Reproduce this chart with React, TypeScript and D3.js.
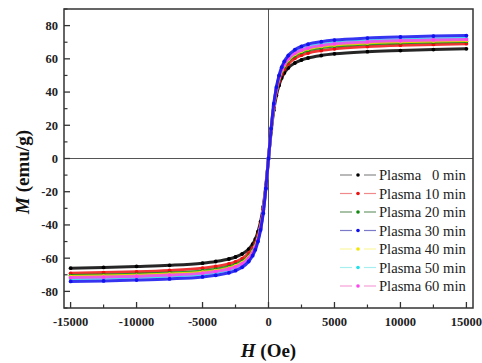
import React from 'react';
import * as d3 from 'd3';

// field values (Oe) shared by all samples
const fieldH = [-15000, -12500, -10000, -7500, -5000, -4000, -3000, -2500, -2000, -1500, -1200, -1000, -800, -600, -400, -200,
  0, 200, 400, 600, 800, 1000, 1200, 1500, 2000, 2500, 3000, 4000, 5000, 7500, 10000, 12500, 15000];

const plasma0 = [-66, -65.6, -65, -64.3, -63, -62, -60.5, -59.3, -57.5, -54.5, -51.5, -48.5, -44, -38, -29, -16,
  0, 16, 29, 38, 44, 48.5, 51.5, 54.5, 57.5, 59.3, 60.5, 62, 63, 64.3, 65, 65.6, 66];
const plasma10 = [-69.1, -68.7, -68.2, -67.4, -66, -65, -63.5, -62.2, -60.3, -57, -54, -51, -46.5, -40, -30.5, -17,
  0, 17, 30.5, 40, 46.5, 51, 54, 57, 60.3, 62.2, 63.5, 65, 66, 67.4, 68.2, 68.7, 69.1];
const plasma20 = [-70.5, -70.2, -69.7, -69, -67.7, -66.7, -65.2, -63.9, -62, -58.8, -55.5, -52.5, -48, -41.5, -31.5, -17.5,
  0, 17.5, 31.5, 41.5, 48, 52.5, 55.5, 58.8, 62, 63.9, 65.2, 66.7, 67.7, 69, 69.7, 70.2, 70.5];
const plasma30 = [-74, -73.7, -73.2, -72.5, -71.3, -70.3, -68.8, -67.5, -65.5, -62, -58.5, -55, -50, -43, -33, -18,
  0, 18, 33, 43, 50, 55, 58.5, 62, 65.5, 67.5, 68.8, 70.3, 71.3, 72.5, 73.2, 73.7, 74];
const plasma40 = [-71.1, -70.8, -70.3, -69.6, -68.4, -67.5, -66, -64.7, -62.8, -59.5, -56.3, -53, -48.5, -42, -32, -17.5,
  0, 17.5, 32, 42, 48.5, 53, 56.3, 59.5, 62.8, 64.7, 66, 67.5, 68.4, 69.6, 70.3, 70.8, 71.1];
const plasma50 = [-72.2, -71.9, -71.4, -70.7, -69.5, -68.5, -67, -65.7, -63.8, -60.5, -57.3, -54, -49.5, -42.5, -32.5, -18,
  0, 18, 32.5, 42.5, 49.5, 54, 57.3, 60.5, 63.8, 65.7, 67, 68.5, 69.5, 70.7, 71.4, 71.9, 72.2];
const plasma60 = [-71.7, -71.4, -70.9, -70.2, -69, -68, -66.5, -65.2, -63.3, -60, -56.8, -53.5, -49, -42, -32, -17.8,
  0, 17.8, 32, 42, 49, 53.5, 56.8, 60, 63.3, 65.2, 66.5, 68, 69, 70.2, 70.9, 71.4, 71.7];

const seriesNames = ['Plasma\u00a0\u00a0 0 min', 'Plasma 10 min', 'Plasma 20 min', 'Plasma 30 min', 'Plasma 40 min', 'Plasma 50 min', 'Plasma 60 min'];
const seriesValues = [plasma0, plasma10, plasma20, plasma30, plasma40, plasma50, plasma60];
const markerColors = ['#000000', '#ee1111', '#118811', '#1111ee', '#f2e600', '#22e0e8', '#ff44ee'];
const lineColors = ['#8a8a8a', '#f08a8a', '#6f9a6f', '#7a7ac8', '#fbf7a0', '#a6eef0', '#f7a0d8'];
const drawOrder = [0, 1, 2, 4, 5, 6, 3];

const xTicks = [-15000, -10000, -5000, 0, 5000, 10000, 15000];
const yTicks = [-80, -60, -40, -20, 0, 20, 40, 60, 80];

const W = 482, H = 363;
const margin = { top: 9, right: 9, bottom: 55, left: 64 };
const serif = "'Liberation Serif', 'Times New Roman', Times, 'DejaVu Serif', serif";

export default function App() {
  const x = d3.scaleLinear().domain([-15500, 15500]).range([margin.left, W - margin.right]);
  const y = d3.scaleLinear().domain([-90, 90]).range([H - margin.bottom, margin.top]);
  const line = d3.line<number>()
    .x((_, i) => x(fieldH[i]))
    .y(d => y(d))
    .curve(d3.curveMonotoneX);

  const x0 = margin.left, x1 = W - margin.right, y0 = margin.top, y1 = H - margin.bottom;
  const xMinor = d3.range(-15000, 15001, 2500).filter(v => !xTicks.includes(v));
  const yMinor = d3.range(-90, 91, 10).filter(v => !yTicks.includes(v));
  const txt = { fontFamily: serif } as React.CSSProperties;

  const legendY = (i: number) => 175 + i * 18.5;

  return (
    <svg width={W} height={H} style={{ position: 'absolute', left: 0, top: 0, background: '#fff', fontFamily: serif }}>
      {/* crosshair at zero */}
      <line x1={x(0)} x2={x(0)} y1={y0} y2={y1} stroke="#555" strokeWidth={1} />
      <line x1={x0} x2={x1} y1={y(0)} y2={y(0)} stroke="#555" strokeWidth={1} />

      {drawOrder.map(k => (
        <g key={k}>
          <path d={line(seriesValues[k]) || ''} fill="none" stroke={markerColors[k]} strokeWidth={3} strokeOpacity={0.85} />
          {seriesValues[k].map((v, i) => (
            <circle key={i} cx={x(fieldH[i])} cy={y(v)} r={1.9} fill={markerColors[k]} />
          ))}
        </g>
      ))}

      {/* frame */}
      <rect x={x0} y={y0} width={x1 - x0} height={y1 - y0} fill="none" stroke="#333" strokeWidth={1.5} />

      {/* x ticks */}
      {xTicks.map(v => (
        <g key={v}>
          <line x1={x(v)} x2={x(v)} y1={y1} y2={y1 - 6} stroke="#333" strokeWidth={1.3} />
          <text x={x(v)} y={326} textAnchor="middle" fontSize={12.5} fontWeight="bold" fill="#222" style={txt}>{v}</text>
        </g>
      ))}
      {xMinor.map(v => (
        <line key={v} x1={x(v)} x2={x(v)} y1={y1} y2={y1 - 3.5} stroke="#333" strokeWidth={1.2} />
      ))}

      {/* y ticks */}
      {yTicks.map(v => (
        <g key={v}>
          <line x1={x0} x2={x0 + 6} y1={y(v)} y2={y(v)} stroke="#333" strokeWidth={1.3} />
          <text x={58} y={y(v)} dy="0.35em" textAnchor="end" fontSize={12.5} fontWeight="bold" fill="#222" style={txt}>{v}</text>
        </g>
      ))}
      {yMinor.map(v => (
        <line key={v} x1={x0} x2={x0 + 3.5} y1={y(v)} y2={y(v)} stroke="#333" strokeWidth={1.2} />
      ))}

      {/* axis titles */}
      <text x={268.5} y={357} textAnchor="middle" fontSize={19} fontWeight="bold" fill="#111" style={txt}>
        <tspan fontStyle="italic">H</tspan> (Oe)
      </text>
      <text transform="translate(29,172) rotate(-90)" textAnchor="middle" fontSize={19} fontWeight="bold" fill="#111" style={txt}>
        <tspan fontStyle="italic">M</tspan> (emu/g)
      </text>

      {/* legend */}
      {seriesNames.map((name, i) => (
        <g key={name}>
          <line x1={340} x2={352} y1={legendY(i)} y2={legendY(i)} stroke={lineColors[i]} strokeWidth={1.2} />
          <line x1={364} x2={376} y1={legendY(i)} y2={legendY(i)} stroke={lineColors[i]} strokeWidth={1.2} />
          <circle cx={358} cy={legendY(i)} r={1.8} fill={markerColors[i]} />
          <text x={379} y={legendY(i)} dy="0.35em" fontSize={14.6} fill="#222" style={txt}>{name}</text>
        </g>
      ))}
    </svg>
  );
}
